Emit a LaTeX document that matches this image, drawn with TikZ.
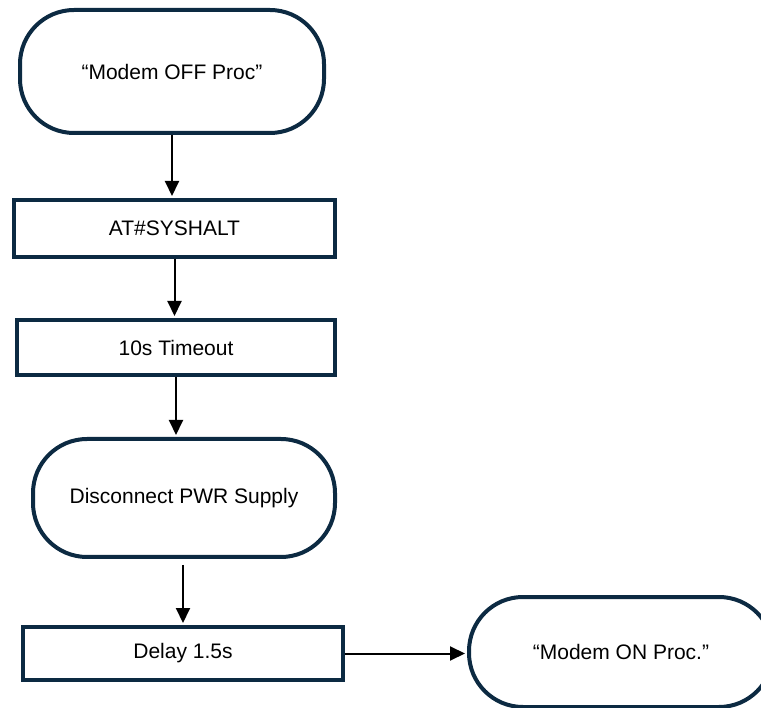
\documentclass[tikz,border=0pt]{standalone}
\usepackage{fontspec}
\setmainfont{Liberation Sans}
\usetikzlibrary{arrows.meta}
\definecolor{borde}{RGB}{12,42,66}

\begin{document}
\begin{tikzpicture}[x=1pt,y=-1pt,
  terminal/.style={draw=borde, line width=4pt, rounded corners=54pt, minimum width=304pt, minimum height=123pt, font=\fontsize{21}{25}\selectfont},
  proceso/.style={draw=borde, line width=4pt, minimum width=320pt, minimum height=56pt, font=\fontsize{21}{25}\selectfont},
  flecha/.style={line width=2pt, shorten >=2pt, -{Triangle[width=14pt,length=15pt]}}]

\clip (0,0) rectangle (761,708);

% Dibuja los terminales
\node[terminal] (inicio) at (172,71.5) {“Modem OFF Proc”};
\node[terminal, minimum width=302pt, minimum height=118pt] (desconectar) at (184,498) {Disconnect PWR Supply};
\node[terminal, minimum height=110pt] (encendido) at (621,652) {“Modem ON Proc.”};

% Dibuja los pasos
\node[proceso, minimum width=321pt, minimum height=57pt] (syshalt) at (174.5,228.5) {AT\#SYSHALT};
\node[proceso, minimum width=318pt, minimum height=55pt] (espera) at (176,347.5) {10s Timeout};
\node[proceso, minimum height=53pt] (retardo) at (183,653.5) {Delay 1.5s};

% Dibuja las flechas
\draw[flecha] (inicio) -- (inicio |- syshalt.north);
\draw[flecha] (syshalt) -- (syshalt |- espera.north);
\draw[flecha] (espera) -- (espera |- desconectar.north);
\draw[flecha, shorten <=6pt] (retardo |- desconectar.south) -- (retardo.north);
\draw[flecha] (retardo) -- (retardo -| encendido.west);

\end{tikzpicture}
\end{document}
